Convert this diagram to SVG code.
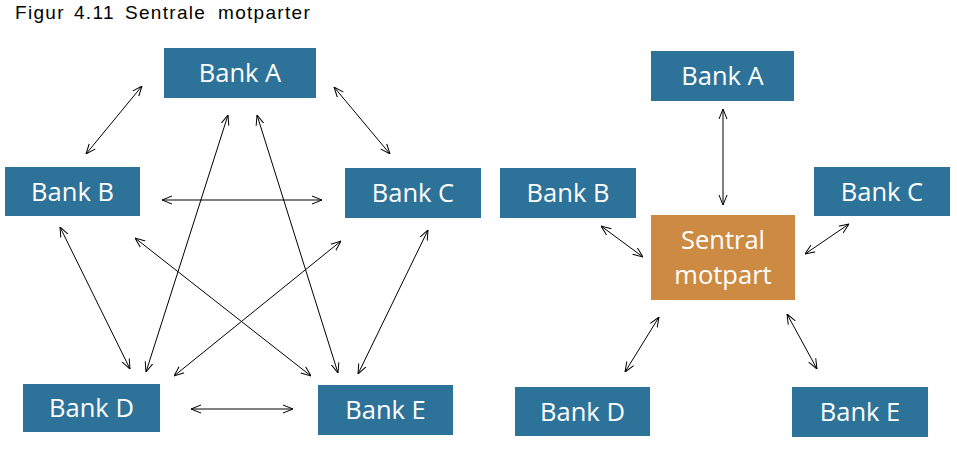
<svg xmlns="http://www.w3.org/2000/svg" width="957" height="450" viewBox="0 0 957 450">
<style>
.b{fill:#2D7399}
.o{fill:#CD8A42}
.t{font-family:"Open Sans","DejaVu Sans",sans-serif;font-size:25.5px;fill:#fff;text-anchor:middle}
.ti{font-family:"Liberation Sans",Arial,sans-serif;font-size:19px;fill:#000;letter-spacing:1.3px}
.c line{stroke:#000;stroke-width:1;fill:none;marker-start:url(#ah);marker-end:url(#ah)}
</style>
<defs>
<marker id="ah" viewBox="0 0 10 10" refX="10" refY="5" markerWidth="10" markerHeight="10" orient="auto-start-reverse" markerUnits="userSpaceOnUse">
<path d="M0,1 L10,5 L0,9" fill="none" stroke="#000" stroke-width="1"/>
</marker>
</defs>
<rect width="957" height="450" fill="#fff"/>
<text class="ti" y="18.5"><tspan x="15">Figur</tspan><tspan x="74">4.11</tspan><tspan x="125">Sentrale</tspan><tspan x="218">motparter</tspan></text>

<g class="c" id="connectors">
<line x1="142" y1="86" x2="86" y2="154"/>
<line x1="334" y1="87" x2="390" y2="154"/>
<line x1="162" y1="200" x2="322" y2="200"/>
<line x1="228" y1="115" x2="146" y2="372"/>
<line x1="257" y1="115" x2="338" y2="373"/>
<line x1="60" y1="227" x2="130" y2="369"/>
<line x1="135" y1="238" x2="311" y2="376"/>
<line x1="341" y1="241" x2="174" y2="376"/>
<line x1="428" y1="230" x2="358" y2="374"/>
<line x1="191" y1="409" x2="293" y2="409"/>
<line x1="723" y1="109" x2="723" y2="205"/>
<line x1="601" y1="226" x2="643" y2="257"/>
<line x1="849" y1="224" x2="805" y2="254"/>
<line x1="659" y1="317" x2="625" y2="372"/>
<line x1="787" y1="314" x2="817" y2="369"/>
</g>

<g id="L_A"><rect class="b" x="164" y="48" width="152" height="50"/><text class="t" x="240" y="82">Bank A</text></g>
<g id="L_B"><rect class="b" x="5" y="167" width="135" height="49"/><text class="t" x="72.5" y="200.5">Bank B</text></g>
<g id="L_C"><rect class="b" x="345" y="168" width="136" height="50"/><text class="t" x="413" y="202">Bank C</text></g>
<g id="L_D"><rect class="b" x="23" y="384" width="137" height="48"/><text class="t" x="91.5" y="417">Bank D</text></g>
<g id="L_E"><rect class="b" x="318" y="385" width="135" height="50"/><text class="t" x="385.5" y="419">Bank E</text></g>

<g id="R_A"><rect class="b" x="651" y="51" width="143" height="50"/><text class="t" x="722.5" y="85">Bank A</text></g>
<g id="R_B"><rect class="b" x="500" y="168" width="136" height="50"/><text class="t" x="568" y="202">Bank B</text></g>
<g id="R_C"><rect class="b" x="814" y="167" width="136" height="49"/><text class="t" x="882" y="200.5">Bank C</text></g>
<g id="R_S"><rect class="o" x="651" y="215" width="144" height="85"/><text class="t" x="723" y="249">Sentral</text><text class="t" x="723" y="284">motpart</text></g>
<g id="R_D"><rect class="b" x="515" y="387" width="135" height="49"/><text class="t" x="582.5" y="421">Bank D</text></g>
<g id="R_E"><rect class="b" x="792" y="387" width="136" height="50"/><text class="t" x="860" y="421">Bank E</text></g>
</svg>
